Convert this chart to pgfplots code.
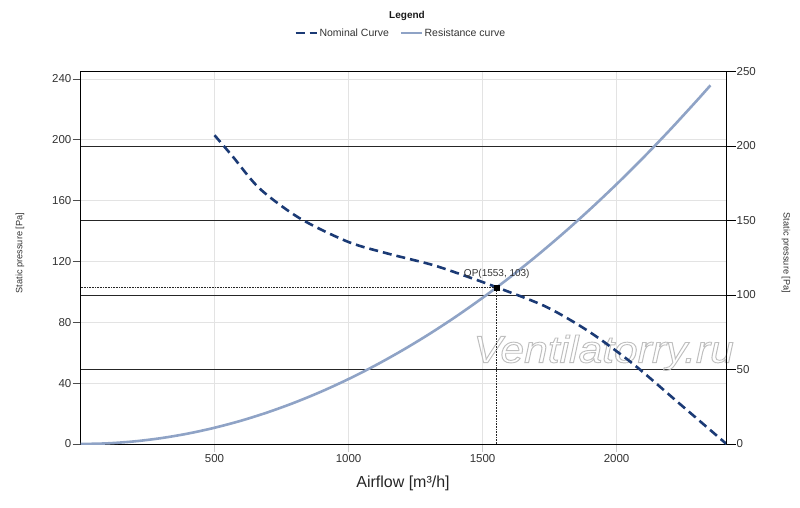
\documentclass[border=0pt]{standalone}
\usepackage{pgfplots}
\pgfplotsset{compat=1.18}
\usepackage{fontspec}
\setmainfont{Liberation Sans}
\definecolor{nominal}{HTML}{1B3A75}
\definecolor{resist}{HTML}{8FA3C6}
\definecolor{lbl}{HTML}{333333}
\newcommand\wmtext{\itshape\fontsize{38}{46}\selectfont\special{pdf:literal direct 1 Tr 0.9 w}Ventilatorry.ru\special{pdf:literal direct 0 Tr}}
\begin{document}
\begin{tikzpicture}[x=1pt,y=1pt]
\path[use as bounding box] (0,0) rectangle (800,507);
\begin{axis}[
  at={(80.5pt,63pt)}, anchor=south west,
  scale only axis, width=646pt, height=372.5pt,
  xmin=0, xmax=2410, ymin=0, ymax=244.9,
  clip mode=individual,
  xtick={500,1000,1500,2000}, ytick={0,40,...,240},
  ytick pos=left, xtick pos=bottom,
  tick align=outside, major tick length=8pt,
  xtick style={draw=gray!40, line width=0.8pt},
  ytick style={draw=black!70, line width=0.8pt},
  grid=major, major grid style={draw=gray!22, line width=0.8pt},
  extra y ticks={48.98,97.96,146.94,195.92},
  extra y tick labels={},
  extra y tick style={grid=major, major grid style={draw=black!85, line width=0.7pt}, major tick length=0pt},
  axis line style={draw=black, line width=0.8pt},
  ticklabel style={font=\fontsize{11.5}{13}\selectfont, text=lbl},
  yticklabel style={inner sep=1pt},
  xticklabel style={inner sep=2pt},
  /pgf/number format/assume math mode=true,
  /pgf/number format/1000 sep={},
  legend columns=2,
  legend style={at={(axis description cs:0.4954,1.1034)}, anchor=center, draw=none, fill=none,
    font=\fontsize{10.5}{12}\selectfont, text=lbl,
    nodes={inner sep=1.5pt},
    /tikz/every even column/.append style={column sep=9pt}},
  legend image code/.code={\draw[#1] (0pt,0pt) -- (21pt,0pt);},
]
\node[text=gray!50, xscale=1.12] at (axis cs:1952,60) {\wmtext};
\addplot[nominal, line width=2.6pt, dash pattern=on 9pt off 5pt, smooth] coordinates {
(500,203) (568,189) (668,168) (817,148.5) (997,133) (1140,125.5) (1314,117.7) (1450,109.6) (1553,103) (1736,90.3) (1898,73.8) (2059,53) (2233,26.8) (2410,0)
};
\addlegendentry{Nominal Curve}
\addplot[resist, line width=2.6pt, smooth] coordinates {
(0,0) (100,0.43) (200,1.71) (300,3.84) (400,6.83) (500,10.68) (600,15.37) (700,20.93) (800,27.33) (900,34.59) (1000,42.71) (1100,51.67) (1200,61.50) (1300,72.17) (1400,83.70) (1500,96.09) (1600,109.33) (1700,123.42) (1800,138.37) (1900,154.17) (2000,170.82) (2100,188.33) (2200,206.70) (2300,225.91) (2350,235.8)
};
\addlegendentry{Resistance curve}
\addplot[black!85, line width=0.6pt, densely dotted, forget plot] coordinates {(0,103) (1553,103)};
\addplot[black!85, line width=0.6pt, densely dotted, forget plot] coordinates {(1553,0) (1553,103)};
\addplot[only marks, mark=square*, mark size=2.5pt, black, forget plot] coordinates {(1553,103)};
\node[font=\fontsize{10}{12}\selectfont, text=lbl, yshift=13pt] at (axis cs:1553,103) {QP(1553, 103)};
\end{axis}
\begin{axis}[
  at={(80.5pt,63pt)}, anchor=south west,
  scale only axis, width=646pt, height=372.5pt,
  xmin=0, xmax=2410, ymin=0, ymax=250,
  axis y line*=right, axis x line=none,
  ytick={0,50,...,250},
  tick align=outside, major tick length=9pt,
  ytick style={draw=black, line width=0.8pt},
  axis line style={draw=black, line width=0.8pt},
  ticklabel style={font=\fontsize{11.5}{13}\selectfont, text=lbl},
  yticklabel style={inner sep=1pt},
  /pgf/number format/assume math mode=true,
]
\addplot[draw=none, forget plot] coordinates {(0,0) (2410,250)};
\end{axis}
\node[rotate=90, font=\fontsize{9.2}{11}\selectfont, text=lbl] at (20,254) {Static pressure [Pa]};
\node[rotate=-90, font=\fontsize{9.2}{11}\selectfont, text=lbl] at (786,254) {Static pressure [Pa]};
\node[font=\fontsize{16}{19}\selectfont, text=black!85] at (403,24) {Airflow [m³/h]};
\node[font=\bfseries\fontsize{10}{12}\selectfont, text=black!90] at (407,491) {Legend};
\end{tikzpicture}
\end{document}
